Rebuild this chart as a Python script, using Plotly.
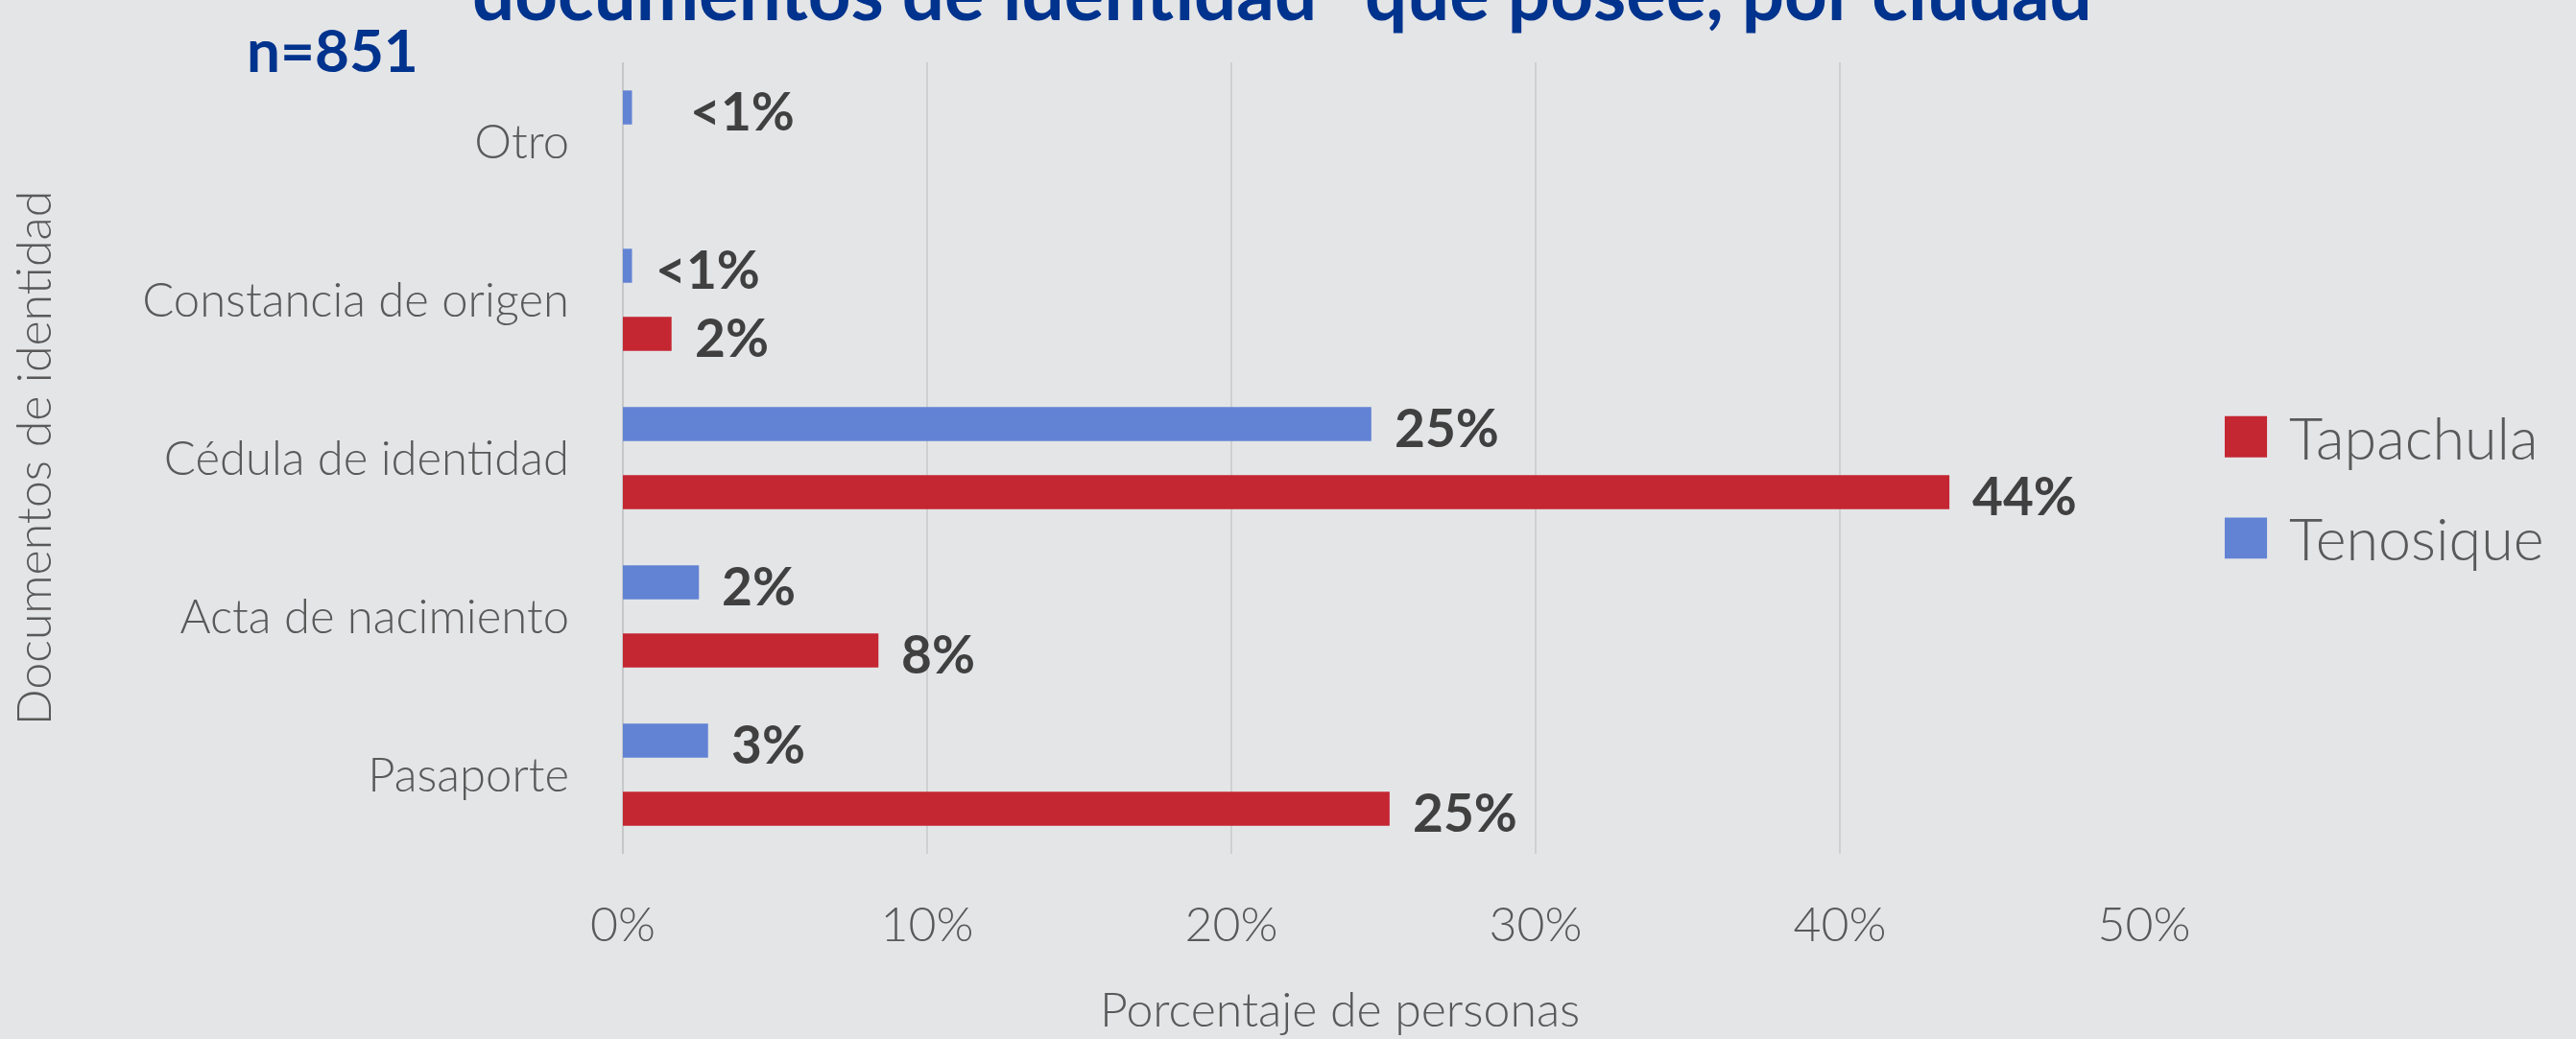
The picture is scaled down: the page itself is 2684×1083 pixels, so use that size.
import plotly.graph_objects as go

# ---- data ----
categories = ["Pasaporte", "Acta de nacimiento", "Cédula de identidad",
              "Constancia de origen", "Otro"]
series_names = ["Tapachula", "Tenosique"]
tapachula = [25.2, 8.4, 43.6, 1.6, 0.0]
tenosique = [2.8, 2.5, 24.6, 0.3, 0.3]
tapachula_labels = ["25%", "8%", "44%", "2%", None]
tenosique_labels = ["3%", "2%", "25%", "<1%", "<1%"]
x_ticks = [0, 10, 20, 30, 40, 50]
x_tick_labels = ["0%", "10%", "20%", "30%", "40%", "50%"]

title_text = 'documentos de identidad" que posee, por ciudad'
n_text = "n=851"
x_title = "Porcentaje de personas"
y_title = "Documentos de identidad"

# ---- style ----
RED = "#C42632"
BLUE = "#6283D4"
BG = "#E4E5E7"
GRAY = "#595959"
DARK = "#404040"
NAVY = "#00338D"
FONT = "Lato"
BARGAP = 0.14

colors = [RED, BLUE]
values = [tapachula, tenosique]
labels = [tapachula_labels, tenosique_labels]

fig = go.Figure()
for name, vals, col in zip(series_names, values, colors):
    fig.add_trace(go.Bar(
        y=categories, x=vals, name=name, orientation="h",
        marker=dict(color=col, line=dict(width=0)),
        showlegend=False,
    ))

# data labels (placed at bar ends, offset in category units for the group slot)
slot = (1 - BARGAP) / 2
annotations = []
for ti, (vals, labs) in enumerate(zip(values, labels)):
    offset = (ti - 0.5) * slot
    for ci, (v, lab) in enumerate(zip(vals, labs)):
        if lab is None:
            continue
        extra = 36 if (ti == 1 and categories[ci] == "Otro") else 0
        annotations.append(dict(
            x=v, y=ci + offset, xref="x", yref="y", text=lab,
            showarrow=False, xanchor="left", yanchor="middle",
            xshift=22 + extra, yshift=-3,
            font=dict(family=FONT, size=55, color=DARK, weight="bold"),
        ))

# title (clipped at top as in the reference) and sample size
annotations.append(dict(
    x=0.5, y=1.09, xref="paper", yref="paper", text=title_text,
    showarrow=False, xanchor="center", yanchor="middle", xshift=-106,
    font=dict(family=FONT, size=78, color=NAVY, weight="bold"),
))
annotations.append(dict(
    x=-0.191, y=1.017, xref="paper", yref="paper", text=n_text,
    showarrow=False, xanchor="center", yanchor="middle",
    font=dict(family=FONT, size=62, color=NAVY, weight="bold"),
))
# x-axis title
annotations.append(dict(
    x=0.5, y=-0.2, xref="paper", yref="paper", text=x_title,
    showarrow=False, xanchor="center", yanchor="middle", xshift=-46,
    yshift=4, font=dict(family=FONT, size=50, color=GRAY, weight=300),
))

# custom legend with large square keys
shapes = []
legend_y = [0.527, 0.399]
for name, col, ly in zip(series_names, colors, legend_y):
    shapes.append(dict(type="rect", xref="paper", yref="paper",
                       x0=1.053, x1=1.0808, y0=ly - 0.026, y1=ly + 0.026,
                       fillcolor=col, line=dict(width=0)))
    annotations.append(dict(
        x=1.094, y=ly, xref="paper", yref="paper", text=name,
        showarrow=False, xanchor="left", yanchor="middle",
        font=dict(family=FONT, size=61, color=GRAY, weight=300),
    ))

fig.update_layout(
    width=2684, height=1083,
    paper_bgcolor=BG, plot_bgcolor=BG,
    barmode="group", bargap=BARGAP, bargroupgap=0.5,
    margin=dict(l=649, r=450, t=65, b=193, autoexpand=False),
    annotations=annotations, shapes=shapes,
    font=dict(family=FONT, color=GRAY),
    xaxis=dict(
        range=[0, 50], tickvals=x_ticks, ticktext=x_tick_labels,
        showgrid=True, gridcolor="#CFD0D2", gridwidth=2,
        zeroline=True, zerolinecolor="#C6C7C9", zerolinewidth=2,
        showline=False, ticks="", ticklabelstandoff=40,
        tickfont=dict(family=FONT, size=50, color=GRAY, weight=300),
        automargin=False, fixedrange=True,
    ),
    yaxis=dict(
        type="category", categoryorder="array", categoryarray=categories,
        showgrid=False, showline=False, ticks="", ticklabelstandoff=55,
        tickfont=dict(family=FONT, size=49, color=GRAY, weight=300),
        title=dict(text=y_title, standoff=78,
                   font=dict(family=FONT, size=50, color=GRAY, weight=300)),
        automargin=False, fixedrange=True,
    ),
)

fig.write_html("out.html",
               config={"displayModeBar": False},
               post_script="document.body.style.margin='0';document.body.style.overflow='hidden';")
